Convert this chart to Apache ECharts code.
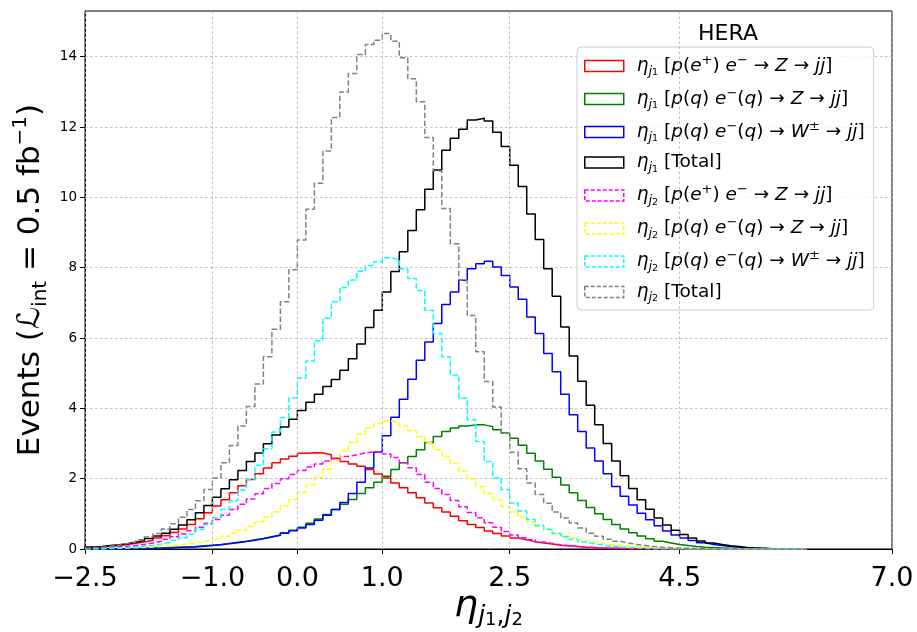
<!DOCTYPE html>
<html><head><meta charset="utf-8">
<script src="https://cdn.jsdelivr.net/npm/echarts@6/dist/echarts.min.js"></script>
<style>html,body{margin:0;padding:0;background:#fff}#c{width:917px;height:632px}</style>
</head><body><div id="c"></div>
<script>
// Histogram binning (bin edges start at BIN_START, width BIN_WIDTH)
const BIN_START = -2.5, BIN_WIDTH = 0.1;
const xTicks = [-2.5, -1.0, 0.0, 1.0, 2.5, 4.5, 7.0];
const yTicks = [0, 2, 4, 6, 8, 10, 12, 14];

const seriesNames = [
  'eta_j1 ep Z', 'eta_j1 qq Z', 'eta_j1 qq W', 'eta_j1 Total',
  'eta_j2 ep Z', 'eta_j2 qq Z', 'eta_j2 qq W', 'eta_j2 Total'
];

const j1_epZ = [0.05,0.06,0.08,0.10,0.13,0.16,0.20,0.25,0.31,0.38,
 0.47,0.57,0.70,0.86,1.03,1.22,1.40,1.60,1.80,1.98,
 2.14,2.30,2.45,2.56,2.64,2.72,2.74,2.73,2.68,2.58,
 2.49,2.42,2.35,2.26,2.13,2.02,1.88,1.74,1.60,1.46,
 1.31,1.17,1.05,0.93,0.80,0.70,0.61,0.51,0.44,0.37,
 0.31,0.26,0.21,0.17,0.14,0.11,0.09,0.07,0.05,0.04,
 0.03,0.02,0.02,0.01,0.01,0.005,0.005,0,0,0,
 0,0,0,0,0,0,0,0,0,0,
 0,0,0,0,0];
const j1_qqZ = [0.005,0.005,0.01,0.01,0.01,0.015,0.02,0.025,0.03,0.04,
 0.05,0.06,0.07,0.09,0.11,0.13,0.16,0.19,0.22,0.26,
 0.30,0.35,0.40,0.46,0.53,0.62,0.73,0.85,0.98,1.12,
 1.27,1.41,1.58,1.74,1.90,2.07,2.26,2.45,2.63,2.82,
 3.03,3.20,3.34,3.44,3.50,3.53,3.53,3.48,3.39,3.30,
 3.15,2.95,2.72,2.50,2.27,2.04,1.82,1.60,1.38,1.18,
 1.00,0.84,0.70,0.57,0.46,0.37,0.29,0.22,0.17,0.13,
 0.10,0.07,0.05,0.04,0.03,0.02,0.015,0.01,0.01,0.005,
 0,0,0,0,0];
const j1_qqW = [0,0.005,0.005,0.01,0.01,0.01,0.015,0.02,0.025,0.03,
 0.04,0.05,0.06,0.08,0.10,0.12,0.15,0.18,0.21,0.25,
 0.29,0.34,0.39,0.45,0.52,0.60,0.70,0.82,0.96,1.12,
 1.32,1.58,1.90,2.30,2.76,3.22,3.75,4.26,4.83,5.37,
 5.89,6.41,6.95,7.31,7.64,7.97,8.11,8.18,8.02,7.78,
 7.45,7.10,6.60,6.13,5.56,5.04,4.40,3.82,3.34,2.87,
 2.50,2.14,1.78,1.50,1.25,1.02,0.83,0.66,0.51,0.40,
 0.31,0.24,0.18,0.13,0.10,0.07,0.05,0.03,0.02,0.015,
 0.01,0.005,0.005,0,0];
const j1_total = [0.06,0.07,0.10,0.12,0.15,0.19,0.24,0.30,0.37,0.45,
 0.56,0.68,0.83,1.03,1.24,1.47,1.71,1.97,2.23,2.49,
 2.73,2.99,3.24,3.47,3.69,3.94,4.17,4.40,4.62,4.82,
 5.08,5.41,5.83,6.30,6.79,7.31,7.89,8.45,9.06,9.65,
 10.23,10.78,11.34,11.68,11.94,12.20,12.25,12.17,11.85,11.45,
 10.91,10.31,9.53,8.80,7.97,7.19,6.31,5.49,4.77,4.09,
 3.53,3.00,2.50,2.08,1.72,1.40,1.13,0.88,0.68,0.53,
 0.41,0.31,0.23,0.17,0.13,0.09,0.07,0.04,0.03,0.02,
 0.01,0.01,0.01,0,0];
const j2_epZ = [0.02,0.03,0.04,0.06,0.08,0.10,0.13,0.17,0.22,0.28,
 0.35,0.43,0.52,0.62,0.73,0.84,0.96,1.12,1.27,1.42,
 1.57,1.72,1.86,2.00,2.12,2.23,2.33,2.42,2.50,2.57,
 2.63,2.68,2.73,2.76,2.77,2.70,2.60,2.45,2.31,2.12,
 1.90,1.72,1.55,1.38,1.20,1.04,0.89,0.75,0.62,0.50,
 0.40,0.32,0.26,0.20,0.16,0.12,0.09,0.07,0.05,0.04,
 0.03,0.02,0.015,0.01,0.01,0.005,0,0,0,0,
 0,0,0,0,0,0,0,0,0,0,
 0,0,0,0,0];
const j2_qqZ = [0.01,0.01,0.015,0.02,0.03,0.035,0.045,0.06,0.07,0.09,
 0.11,0.14,0.17,0.21,0.25,0.30,0.36,0.45,0.54,0.64,
 0.77,0.91,1.06,1.23,1.41,1.61,1.82,2.04,2.27,2.52,
 2.78,3.03,3.26,3.45,3.57,3.64,3.60,3.50,3.36,3.20,
 3.02,2.83,2.63,2.43,2.21,1.99,1.78,1.58,1.39,1.21,
 1.05,0.90,0.76,0.64,0.54,0.45,0.37,0.31,0.25,0.20,
 0.16,0.13,0.10,0.08,0.06,0.05,0.04,0.03,0.02,0.015,
 0.01,0.01,0.005,0,0,0,0,0,0,0,
 0,0,0,0,0];
const j2_qqW = [0.01,0.01,0.02,0.03,0.04,0.06,0.08,0.10,0.14,0.19,
 0.25,0.32,0.42,0.56,0.70,0.89,1.12,1.37,1.68,1.98,
 2.38,2.85,3.33,3.74,4.30,4.86,5.35,5.92,6.56,7.03,
 7.44,7.65,7.90,8.06,8.17,8.28,8.23,7.97,7.69,7.35,
 6.79,6.13,5.47,4.95,4.29,3.67,3.06,2.49,2.02,1.69,
 1.31,1.08,0.84,0.67,0.56,0.44,0.35,0.27,0.20,0.15,
 0.11,0.08,0.06,0.04,0.03,0.02,0.01,0.01,0.005,0.005,
 0,0,0,0,0,0,0,0,0,0,
 0,0,0,0,0];
const j2_total = [0.04,0.05,0.08,0.11,0.16,0.20,0.26,0.34,0.44,0.57,
 0.72,0.90,1.12,1.37,1.69,2.02,2.45,2.94,3.50,4.05,
 4.69,5.47,6.25,7.03,7.94,8.79,9.66,10.40,11.32,12.27,
 13.00,13.52,14.06,14.35,14.47,14.66,14.44,13.97,13.37,12.72,
 11.70,10.75,9.68,8.68,7.65,6.64,5.61,4.76,4.04,3.30,
 2.75,2.28,1.88,1.55,1.30,1.05,0.88,0.74,0.60,0.45,
 0.36,0.28,0.22,0.17,0.13,0.10,0.07,0.05,0.035,0.025,
 0.02,0.015,0.01,0.005,0,0,0,0,0,0,
 0,0,0,0,0];

const seriesValues = [j1_epZ, j1_qqZ, j1_qqW, j1_total, j2_epZ, j2_qqZ, j2_qqW, j2_total];
const colors = ['#ff0000', '#008000', '#0000ff', '#000000', '#ff00ff', '#ffff00', '#00ffff', '#808080'];
const dashed = [false, false, false, false, true, true, true, true];

const F = 'DejaVu Sans';
function legendRich(j, proc) {
  const head = '{g| }{i|η}{sj|j}{sn|' + j + '}{r| [}';
  const arr = '{r| → }';
  let body;
  if (proc === 'ep') body = '{i|p}{r|(}{i|e}{sp|+}{r|) }{i|e}{sp|−}' + arr + '{i|Z}' + arr + '{i|jj}';
  else if (proc === 'qZ') body = '{i|p}{r|(}{i|q}{r|) }{i|e}{sp|−}{r|(}{i|q}{r|)}' + arr + '{i|Z}' + arr + '{i|jj}';
  else if (proc === 'qW') body = '{i|p}{r|(}{i|q}{r|) }{i|e}{sp|−}{r|(}{i|q}{r|)}' + arr + '{i|W}{sp|±}' + arr + '{i|jj}';
  else body = '{r|Total}';
  return head + body + '{r|]}';
}
const legendText = {};
['ep','qZ','qW','T'].forEach((p, k) => {
  legendText[seriesNames[k]] = legendRich(1, p);
  legendText[seriesNames[k + 4]] = legendRich(2, p);
});

function stepData(vals) {
  const pts = [[BIN_START, 0]];
  vals.forEach((v, i) => pts.push([+(BIN_START + i * BIN_WIDTH).toFixed(3), v]));
  const end = +(BIN_START + vals.length * BIN_WIDTH).toFixed(3);
  pts.push([end, vals[vals.length - 1]]);
  pts.push([end, 0]);
  return pts;
}

const gridColor = '#b0b0b0';
const series = [{
  type: 'line', name: '_grid', data: [], silent: true,
  markLine: {
    silent: true, symbol: ['none', 'none'], label: { show: false },
    lineStyle: { color: gridColor, width: 0.8, type: [2.5, 2.5] },
    data: xTicks.map(v => ({ xAxis: v }))
  }
}];
seriesValues.forEach((vals, k) => {
  series.push({
    type: 'line', name: seriesNames[k], step: 'end', showSymbol: false, symbol: 'none',
    data: stepData(vals), clip: true,
    lineStyle: { color: colors[k], width: 1.5, type: dashed[k] ? [5.5, 2.5] : 'solid' },
    itemStyle: { color: colors[k] },
    emphasis: { disabled: true }
  });
});

const chart = echarts.init(document.getElementById('c'), null, { renderer: 'canvas' });
chart.setOption({
  animation: false,
  backgroundColor: '#ffffff',
  grid: { left: 85, right: 25, top: 11, bottom: 83, show: true, borderColor: '#000', borderWidth: 1,
    containLabel: false, outerBoundsMode: 'none' },
  xAxis: {
    type: 'value', min: -2.5, max: 7.0,
    axisLine: { show: true, onZero: false, lineStyle: { color: '#000', width: 1 } },
    axisTick: { show: true, customValues: xTicks, length: 5, inside: false, lineStyle: { color: '#000' } },
    axisLabel: { customValues: xTicks, margin: 16, fontFamily: F, fontSize: 27, color: '#000',
      formatter: v => (v < 0 ? '−' : '') + Math.abs(v).toFixed(1) },
    splitLine: { show: false },
    name: '{e|η}{j|j}{n|1}{c|,}{j|j}{n|2}',
    nameLocation: 'middle', nameGap: 34, nameMoveOverlap: false,
    nameTextStyle: { rich: {
      e: { fontFamily: F, fontSize: 38, fontStyle: 'italic', color: '#000', lineHeight: 46 },
      j: { fontFamily: F, fontSize: 25, fontStyle: 'italic', color: '#000', verticalAlign: 'bottom', lineHeight: 30 },
      n: { fontFamily: F, fontSize: 18, color: '#000', verticalAlign: 'bottom', lineHeight: 22 },
      c: { fontFamily: F, fontSize: 25, color: '#000', verticalAlign: 'bottom', lineHeight: 30 }
    } }
  },
  yAxis: {
    type: 'value', min: 0, max: 15.3, interval: 2,
    axisLine: { show: true, onZero: false, lineStyle: { color: '#000', width: 1 } },
    axisTick: { show: true, customValues: yTicks, length: 5, lineStyle: { color: '#000' } },
    axisLabel: { customValues: yTicks, margin: 8, fontFamily: F, fontSize: 13.5, color: '#000' },
    splitLine: { show: true, lineStyle: { color: gridColor, width: 0.8, type: [2.5, 2.5] } },
    name: '{a|Events (}{l|ℒ}{s|int}{a| = 0.5 fb}{p|−1}{a|)}',
    nameLocation: 'middle', nameGap: 34, nameMoveOverlap: false,
    nameTextStyle: { rich: {
      a: { fontFamily: F, fontSize: 31, color: '#000', lineHeight: 40 },
      l: { fontFamily: F, fontSize: 31, fontStyle: 'italic', color: '#000', lineHeight: 40 },
      s: { fontFamily: F, fontSize: 20, color: '#000', verticalAlign: 'bottom', lineHeight: 24 },
      p: { fontFamily: F, fontSize: 20, color: '#000', verticalAlign: 'top', lineHeight: 24 }
    } }
  },
  legend: {
    orient: 'vertical', left: 577, top: 47,
    padding: [7, 9, 6, 7], itemWidth: 39, itemHeight: 11, itemGap: 9,
    backgroundColor: 'rgba(255,255,255,0.8)', borderColor: '#cccccc', borderWidth: 1, borderRadius: 4,
    icon: 'rect', selectedMode: false,
    data: seriesNames.map((n, k) => ({
      name: n, icon: 'rect',
      itemStyle: { color: 'rgba(255,255,255,0)', borderColor: colors[k], borderWidth: 1.5,
        borderType: dashed[k] ? [4, 2] : 'solid' }
    })),
    formatter: n => legendText[n],
    textStyle: { rich: {
      g: { width: 8, fontSize: 10, lineHeight: 24 },
      r: { fontFamily: F, fontSize: 18.5, color: '#000', lineHeight: 24 },
      i: { fontFamily: F, fontSize: 18.5, fontStyle: 'italic', color: '#000', lineHeight: 24 },
      sj: { fontFamily: F, fontSize: 13, fontStyle: 'italic', color: '#000', verticalAlign: 'bottom', lineHeight: 16 },
      sn: { fontFamily: F, fontSize: 9.5, color: '#000', verticalAlign: 'bottom', lineHeight: 11 },
      sp: { fontFamily: F, fontSize: 13, color: '#000', verticalAlign: 'top', lineHeight: 15 }
    } }
  },
  graphic: [{
    type: 'text', x: 728, y: 34, silent: true,
    style: { text: 'HERA', fontFamily: F, fontSize: 22, fill: '#000', align: 'center', verticalAlign: 'middle' }
  }],
  series: series
});
</script>
</body></html>
